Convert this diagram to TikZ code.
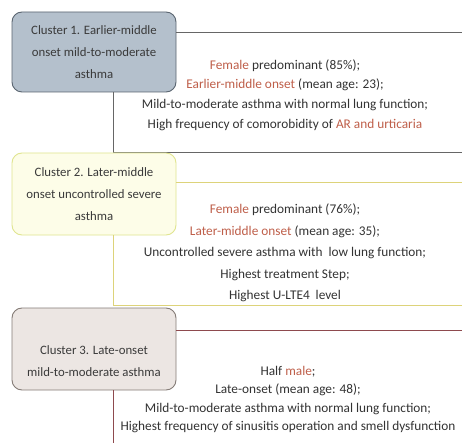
\documentclass[tikz,border=0pt]{standalone}
\usepackage{fontspec}
\setmainfont{Carlito}
\definecolor{cAfill}{HTML}{B4C0CC}
\definecolor{cAdraw}{HTML}{5A6570}
\definecolor{cBfill}{HTML}{FDFDE8}
\definecolor{cBdraw}{HTML}{E0E590}
\definecolor{cCfill}{HTML}{ECE6E3}
\definecolor{cCdraw}{HTML}{857C77}
\definecolor{lineA}{HTML}{666666}
\definecolor{lineB}{HTML}{DDD37A}
\definecolor{lineC}{HTML}{8E4A4E}
\definecolor{accent}{HTML}{BF5F4A}
\definecolor{bodytext}{HTML}{333333}
\definecolor{boxtext}{HTML}{3A3A3A}
\newcommand{\acc}[1]{\textcolor{accent}{#1}}
\tikzset{
  clbox/.style={rounded corners=10pt, line width=0.9pt, minimum width=164pt,
    text=boxtext, align=center, inner sep=0pt, font=\fontsize{12.8}{22}\selectfont},
  boxA/.style={clbox, fill=cAfill, draw=cAdraw, minimum height=80pt},
  boxB/.style={clbox, fill=cBfill, draw=cBdraw, minimum height=82pt},
  boxC/.style={clbox, fill=cCfill, draw=cCdraw, minimum height=82pt},
  boxtxt/.style={text=boxtext, align=center, inner sep=0pt, font=\fontsize{12.8}{22}\selectfont},
  body/.style={text=bodytext, align=center, inner sep=0pt},
  lnA/.style={draw=lineA, line width=0.8pt},
  lnB/.style={draw=lineB, line width=0.9pt},
  lnC/.style={draw=lineC, line width=0.8pt},
}
\begin{document}
\begin{tikzpicture}[x=1pt, y=-1pt]
\useasboundingbox[fill=white] (0,0) rectangle (462,443);

% Cluster 1
\node[boxA] (c1) at (94,52) {Cluster 1. Earlier-middle\\onset mild-to-moderate\\asthma};
\coordinate (c1r) at (462,32);
\coordinate (c1b) at (113,152);
\draw[lnA] (c1.east |- c1r) -- (c1r);
\draw[lnA] (c1b |- c1.south) -- (c1b) -- (c1b -| c1r);
\node[body, font=\fontsize{13.3}{19.8}\selectfont] (t1) at (285,95)
  {\acc{Female} predominant (85\%);\\
   \acc{Earlier-middle onset} (mean age: 23);\\
   Mild-to-moderate asthma with normal lung function;\\
   High frequency of comorobidity of \acc{AR and urticaria}};

% Cluster 2
\node[boxB] (c2) at (94,194) {Cluster 2. Later-middle\\onset uncontrolled severe\\asthma};
\coordinate (c2r) at (462,182);
\coordinate (c2b) at (113,305);
\draw[lnB] (c2.east |- c2r) -- (c2r);
\draw[lnB] (c2b |- c2.south) -- (c2b) -- (c2b -| c2r);
\node[body, font=\fontsize{13.3}{21.5}\selectfont] (t2) at (285,253)
  {\acc{Female} predominant (76\%);\\
   \acc{Later-middle onset} (mean age: 35);\\
   Uncontrolled severe asthma with\ \ low lung function;\\
   Highest treatment Step;\\
   Highest U-LTE4\ \ level};

% Cluster 3
\node[boxC] (c3) at (94,349) {};
\node[boxtxt] (c3t) at (94,361) {Cluster 3. Late-onset\\mild-to-moderate asthma};
\coordinate (c3r) at (462,330);
\coordinate (c3b) at (113,443);
\draw[lnC] (c3.east |- c3r) -- (c3r);
\draw[lnC] (c3b |- c3.south) -- (c3b);
\node[body, font=\fontsize{13.3}{18.5}\selectfont] (t3) at (288,399.5)
  {Half \acc{male};\\
   Late-onset (mean age: 48);\\
   Mild-to-moderate asthma with normal lung function;\\
   Highest frequency of sinusitis operation and smell dysfunction};
\end{tikzpicture}
\end{document}
